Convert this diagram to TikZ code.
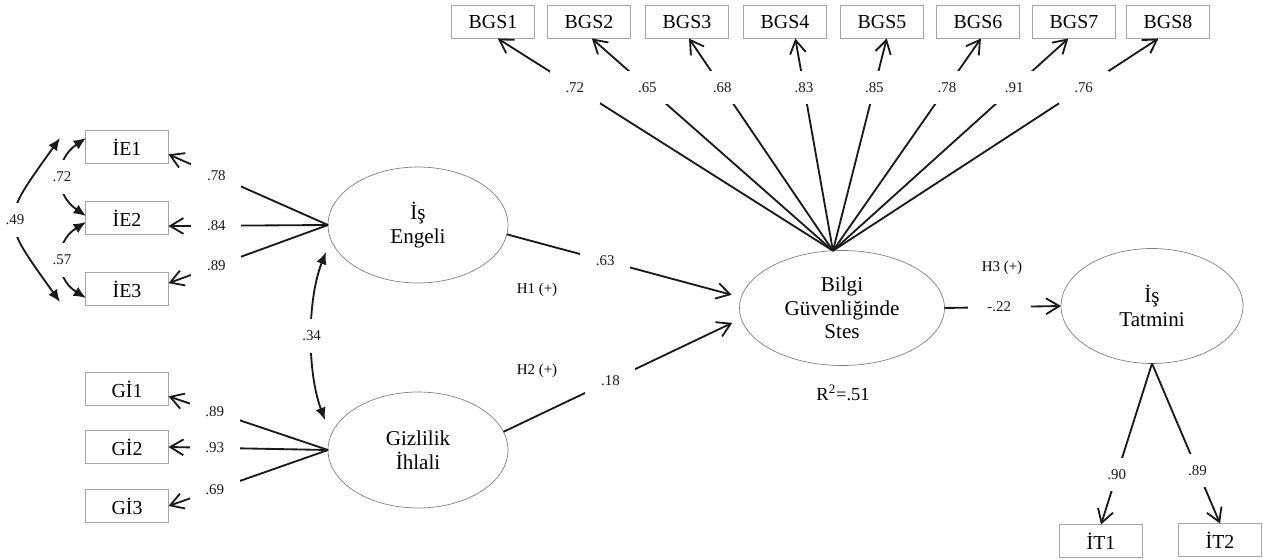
\documentclass[tikz,border=0pt]{standalone}
\usepackage{fontspec}
\setmainfont{Liberation Serif}
\usetikzlibrary{arrows.meta, calc, shapes.geometric}
\definecolor{boxgray}{HTML}{A6A6A6}
\definecolor{ovalgray}{HTML}{808080}
\definecolor{pathblack}{HTML}{1A1A1A}

\begin{document}
\begin{tikzpicture}[
  x=0.02cm, y=-0.02cm,
  every node/.style={outer sep=0pt},
  obs/.style={draw=boxgray, line width=0.5pt, minimum width=1.66cm,
    minimum height=0.66cm, inner sep=0pt, font=\fontsize{11.3}{12}\selectfont},
  latent/.style={ellipse, draw=ovalgray, line width=0.4pt, inner sep=0pt,
    align=center, font=\fontsize{12}{13.5}\selectfont},
  load/.style={pathblack, line width=1.05pt, -{Straight Barb[length=7.5pt,width=9pt]}},
  cov/.style={pathblack, line width=1.05pt,
    {Latex[length=7pt,width=6pt]}-{Latex[length=7pt,width=6pt]}},
  coef/.style={fill=white, inner sep=0pt, minimum width=1cm,
    minimum height=0.66cm, font=\fontsize{8.5}{9}\selectfont},
  covcoef/.style={coef, minimum width=0.5cm, minimum height=0.7cm},
  hyp/.style={inner sep=0pt, font=\fontsize{8.5}{9}\selectfont}
]

\useasboundingbox (0,0) rectangle (1263,560);

% Latent variables
\node[latent, minimum width=3.6cm, minimum height=2.32cm] (eng) at (418,225) {İş\\Engeli};
\node[latent, minimum width=3.6cm, minimum height=2.32cm] (giz) at (418,450) {Gizlilik\\İhlali};
\node[latent, minimum width=4.1cm, minimum height=2.3cm] (stes) at (842,308)
  {Bilgi\\Güvenliğinde\\Stes};
\node[latent, minimum width=3.64cm, minimum height=2.3cm] (tat) at (1152,306) {İş\\Tatmini};

% Observed indicators
\node[obs] (ie1) at (127,147) {İE1};
\node[obs] (ie2) at (127,218) {İE2};
\node[obs] (ie3) at (127,289) {İE3};
\node[obs] (gi1) at (127,389) {Gİ1};
\node[obs] (gi2) at (127,447) {Gİ2};
\node[obs] (gi3) at (127,506) {Gİ3};
\foreach \i/\x in {1/493,2/589,3/687,4/785,5/882,6/978,7/1074,8/1168}{
  \node[obs] (bgs\i) at (\x,22) {BGS\i};
}
\node[obs] (it1) at (1101,541) {İT1};
\node[obs] (it2) at (1220,540) {İT2};

% Loadings of the left constructs
\draw[load] (eng.west) -- node[coef, pos=.7] (l-ie1) {.78} (ie1.-10);
\draw[load] (eng.west) -- node[coef, pos=.7] (l-ie2) {.84} (ie2.-11);
\draw[load] (eng.west) -- node[coef, pos=.7] (l-ie3) {.89} (ie3.8);
\draw[load] (giz.west) -- node[coef, pos=.71] (l-gi1) {.89} (gi1.-10);
\draw[load] (giz.west) -- node[coef, pos=.71] (l-gi2) {.93} (gi2.east);
\draw[load] (giz.west) -- node[coef, pos=.71] (l-gi3) {.69} (gi3.east);

% Loadings of the stress construct
\foreach \i/\a/\v in {1/-74/.72, 2/-80/.65, 3/-83/.68, 4/-58/.83,
                      5/-74/.85, 6/-80/.78, 7/-109/.91, 8/-120/.76}{
  \draw[load] (stes.99) -- node[coef, pos=.77] (l-bgs\i) {\v} (bgs\i.\a);
}

% Loadings of job satisfaction
\draw[load] (tat.south) -- node[coef, pos=.69] (l-it1) {.90} (it1.north);
\draw[load] (tat.south) -- node[coef, pos=.67] (l-it2) {.89} (it2.north);

% Structural paths
\draw[load, shorten >=0.2cm] (eng.-6) -- node[coef, pos=.42] (p-h1) {.63} (stes.174);
\draw[load, shorten >=0.2cm] (giz.12) -- node[coef, pos=.45] (p-h2) {.18} (stes.186);
\draw[load] (stes.east) -- node[coef, pos=.47, minimum width=1.26cm] (p-h3) {-.22} (tat.west);

\node[hyp] (h1) at (537,290) {H1 (+)};
\node[hyp] (h2) at (537,371) {H2 (+)};
\node[hyp] (h3) at (1002,268) {H3 (+)};
\node[inner sep=0pt, font=\fontsize{10.5}{11}\selectfont] (r2) at (843,393) {R\textsuperscript{2}=.51};

% Covariances
\coordinate (c49a) at (60,138);
\coordinate (c49b) at (60,302);
\coordinate (c72a) at (86,138);
\coordinate (c72b) at (86,216);
\coordinate (c57a) at (86,222);
\coordinate (c57b) at (86,298);
\coordinate (c34a) at (326,252);
\coordinate (c34b) at (325,420);

\draw[cov] (c49a) .. controls (0,222) and (0,218) .. (c49b)
  node[covcoef, pos=.5] (k-49) {.49};
\draw[cov] (c72a) .. controls (54,160) and (54,194) .. (c72b)
  node[covcoef, pos=.5] (k-72) {.72};
\draw[cov] (c57a) .. controls (54,242) and (54,278) .. (c57b)
  node[covcoef, pos=.5] (k-57) {.57};
\draw[cov] (c34a) .. controls (307,300) and (307,372) .. (c34b)
  node[covcoef, pos=.5] (k-34) {.34};

\end{tikzpicture}
\end{document}
